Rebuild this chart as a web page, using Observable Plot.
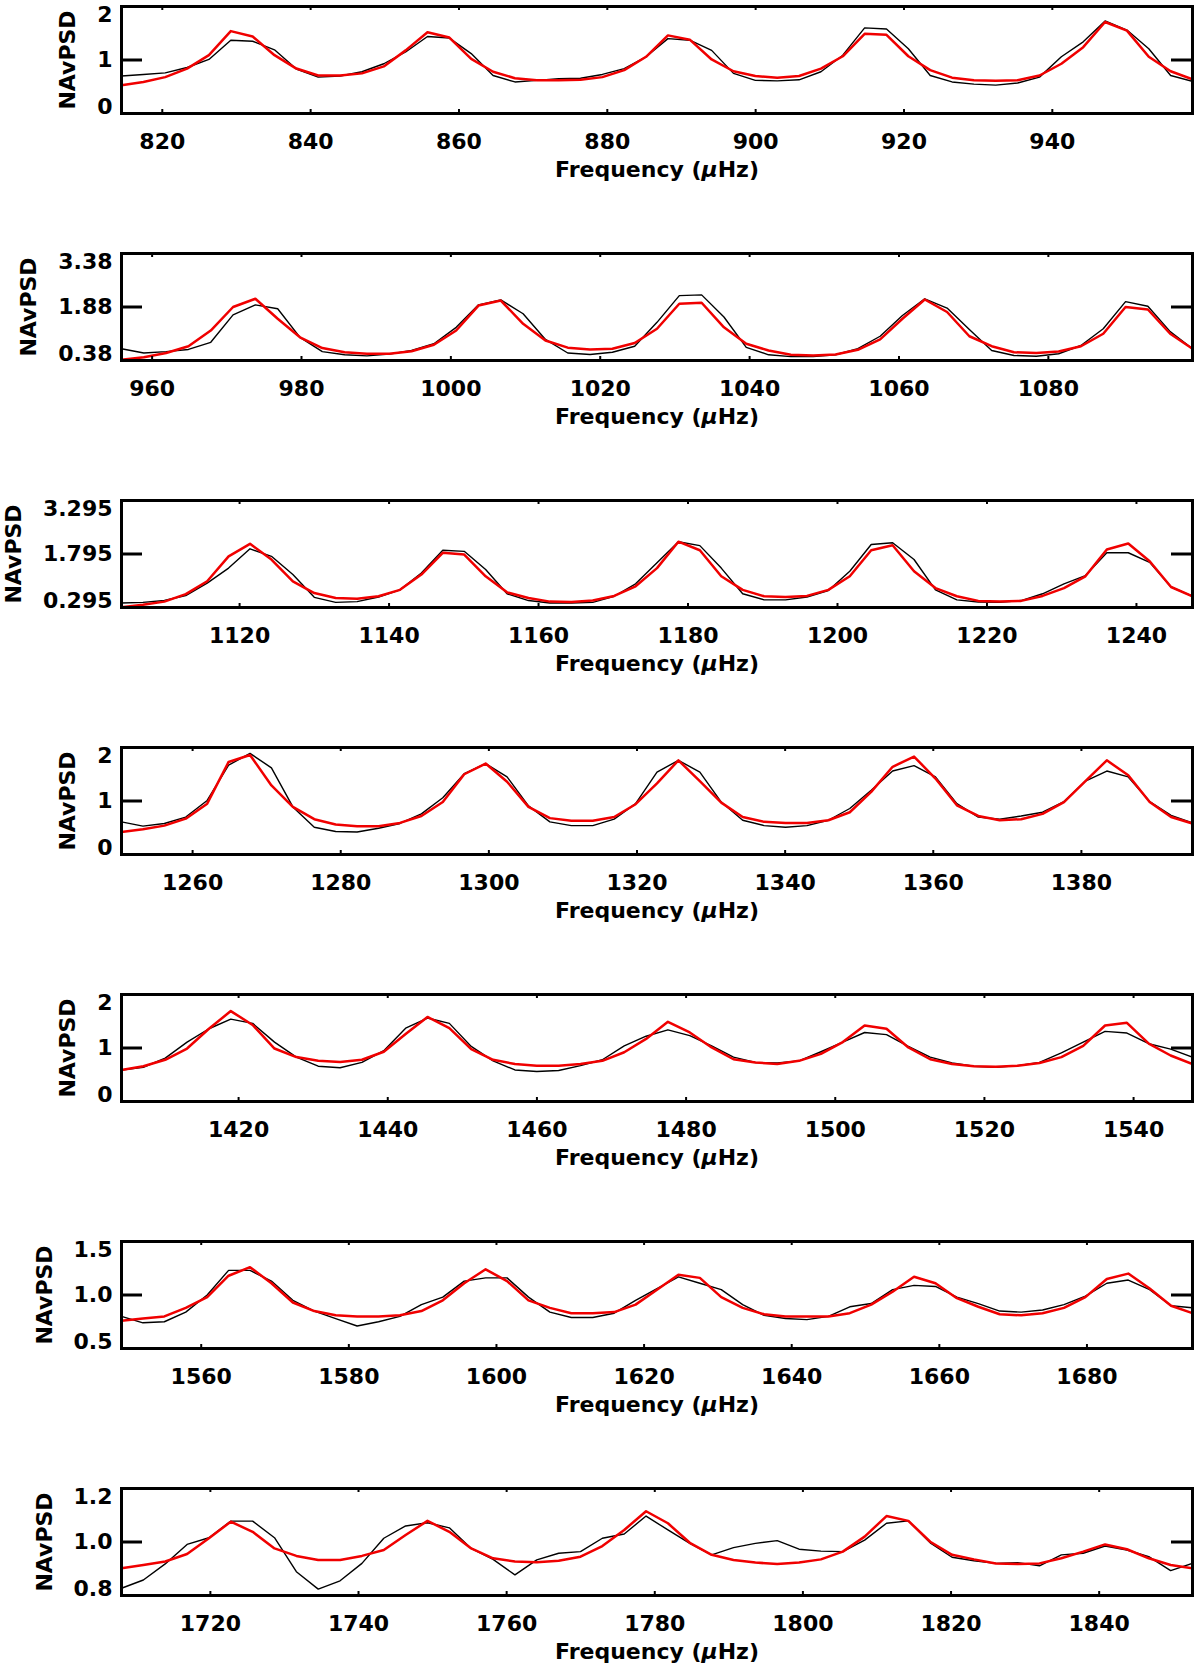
<!DOCTYPE html>
<html>
<head>
<meta charset="utf-8">
<script src="https://cdn.jsdelivr.net/npm/d3@7"></script>
<script src="https://cdn.jsdelivr.net/npm/@observablehq/plot@0.6"></script>
<style>
  body { margin: 0; background: #fff; overflow: hidden; }
  #chart svg { display: block; }
</style>
</head>
<body>
<div id="chart"></div>
<script>
// first and last frequency of each strip (µHz), samples evenly spaced in between
const freq1 = [814.5, 958.9]
const black1 = [0.70,0.73,0.76,0.86,1.01,1.37,1.35,1.19,0.83,0.68, 0.70,0.78,0.93,1.15,1.44,1.41,1.12,0.71,0.59,0.62,
  0.65,0.66,0.73,0.84,1.06,1.40,1.37,1.18,0.75,0.62, 0.61,0.63,0.78,1.09,1.60,1.58,1.21,0.71,0.59,0.55,
  0.53,0.57,0.68,1.06,1.34,1.73,1.56,1.21,0.71,0.60]
const red1 = [0.53,0.59,0.68,0.84,1.09,1.54,1.44,1.09,0.84,0.71, 0.71,0.75,0.88,1.18,1.52,1.42,1.02,0.78,0.66,0.62,
  0.62,0.63,0.68,0.81,1.06,1.46,1.38,1.01,0.79,0.70, 0.67,0.70,0.84,1.07,1.49,1.47,1.07,0.81,0.67,0.62,
  0.61,0.62,0.71,0.93,1.24,1.71,1.55,1.06,0.79,0.64]
const xticks1 = [820, 840, 860, 880, 900, 920, 940]
const yticks1 = [0, 1, 2]
const ylabels1 = ['0', '1', '2']

const freq2 = [955.9, 1099.3]
const black2 = [0.71,0.59,0.63,0.69,0.89,1.66,1.94,1.83,1.03,0.63, 0.54,0.51,0.56,0.66,0.85,1.31,1.94,2.08,1.69,0.97,
  0.59,0.55,0.61,0.78,1.45,2.20,2.22,1.60,0.75,0.54, 0.49,0.49,0.54,0.71,1.06,1.64,2.11,1.85,1.25,0.66,
  0.52,0.50,0.57,0.80,1.27,2.03,1.90,1.19,0.71]
const red2 = [0.40,0.47,0.59,0.78,1.22,1.88,2.11,1.55,1.03,0.73, 0.61,0.57,0.57,0.64,0.82,1.22,1.92,2.06,1.41,0.94,
  0.74,0.69,0.71,0.87,1.27,1.97,2.00,1.31,0.85,0.66, 0.54,0.52,0.55,0.68,0.97,1.55,2.09,1.74,1.06,0.78,
  0.61,0.59,0.63,0.78,1.13,1.88,1.81,1.13,0.71]
const xticks2 = [960, 980, 1000, 1020, 1040, 1060, 1080]
const yticks2 = [0.38, 1.88, 3.38]
const ylabels2 = ['0.38', '1.88', '3.38']

const freq3 = [1104.2, 1247.5]
const black3 = [0.42,0.44,0.49,0.63,0.98,1.40,1.94,1.73,1.22,0.58, 0.44,0.46,0.59,0.79,1.26,1.90,1.87,1.36,0.68,0.49,
  0.42,0.42,0.44,0.61,0.96,1.55,2.14,2.03,1.40,0.68, 0.51,0.51,0.59,0.77,1.31,2.06,2.11,1.64,0.79,0.51,
  0.45,0.44,0.49,0.68,0.96,1.19,1.83,1.83,1.56,0.87, 0.61]
const red3 = [0.30,0.37,0.46,0.67,1.03,1.73,2.08,1.64,1.03,0.70, 0.56,0.54,0.61,0.79,1.22,1.83,1.78,1.17,0.72,0.56,
  0.46,0.45,0.49,0.62,0.89,1.40,2.14,1.90,1.17,0.79, 0.61,0.59,0.62,0.79,1.17,1.90,2.04,1.31,0.84,0.61,
  0.48,0.46,0.48,0.62,0.84,1.17,1.92,2.09,1.59,0.87, 0.61]
const xticks3 = [1120, 1140, 1160, 1180, 1200, 1220, 1240]
const yticks3 = [0.295, 1.795, 3.295]
const ylabels3 = ['0.295', '1.795', '3.295']

const freq4 = [1250.4, 1395.0]
const black4 = [0.61,0.53,0.58,0.70,1.01,1.67,1.89,1.62,0.89,0.51, 0.43,0.42,0.49,0.58,0.76,1.06,1.51,1.70,1.45,0.91,
  0.61,0.54,0.54,0.66,0.95,1.54,1.76,1.54,0.98,0.64, 0.54,0.51,0.54,0.64,0.86,1.20,1.56,1.66,1.45,0.95,
  0.70,0.66,0.72,0.79,0.99,1.37,1.56,1.45,0.99,0.73, 0.59]
const red4 = [0.42,0.47,0.54,0.67,0.95,1.73,1.86,1.29,0.89,0.66, 0.56,0.53,0.53,0.59,0.72,0.98,1.50,1.70,1.36,0.89,
  0.68,0.63,0.63,0.70,0.94,1.33,1.76,1.37,0.97,0.70, 0.61,0.59,0.59,0.64,0.79,1.17,1.64,1.83,1.42,0.92,
  0.72,0.64,0.66,0.76,0.98,1.37,1.76,1.48,0.98,0.70, 0.58]
const xticks4 = [1260, 1280, 1300, 1320, 1340, 1360, 1380]
const yticks4 = [0, 1, 2]
const ylabels4 = ['0', '1', '2']

const freq5 = [1404.3, 1547.9]
const black5 = [0.59,0.64,0.81,1.11,1.36,1.54,1.46,1.11,0.83,0.66, 0.63,0.73,0.95,1.37,1.56,1.46,1.03,0.76,0.59,0.56,
  0.58,0.67,0.78,1.04,1.22,1.34,1.23,1.04,0.83,0.73, 0.72,0.76,0.93,1.11,1.29,1.25,1.03,0.83,0.72,0.66,
  0.64,0.67,0.73,0.91,1.11,1.31,1.28,1.08,0.98,0.83]
const red5 = [0.59,0.66,0.78,0.99,1.36,1.69,1.43,0.99,0.83,0.76, 0.74,0.78,0.93,1.26,1.58,1.37,0.98,0.78,0.70,0.67,
  0.67,0.70,0.76,0.92,1.17,1.49,1.29,1.01,0.79,0.73, 0.70,0.76,0.89,1.11,1.42,1.36,1.01,0.79,0.70,0.66,
  0.65,0.67,0.72,0.83,1.04,1.42,1.47,1.08,0.86,0.70]
const xticks5 = [1420, 1440, 1460, 1480, 1500, 1520, 1540]
const yticks5 = [0, 1, 2]
const ylabels5 = ['0', '1', '2']

const freq6 = [1549.2, 1694.3]
const black6 = [0.80,0.74,0.75,0.84,1.00,1.23,1.23,1.13,0.95,0.85, 0.78,0.71,0.75,0.80,0.91,0.98,1.13,1.16,1.16,0.98,
  0.84,0.79,0.79,0.83,0.95,1.06,1.17,1.11,1.05,0.91, 0.81,0.78,0.77,0.80,0.89,0.92,1.05,1.09,1.08,0.98,
  0.92,0.85,0.84,0.86,0.91,0.99,1.11,1.14,1.05,0.90, 0.88]
const red6 = [0.76,0.78,0.80,0.88,0.98,1.18,1.26,1.11,0.93,0.85, 0.81,0.80,0.80,0.81,0.85,0.95,1.11,1.24,1.13,0.95,
  0.88,0.83,0.83,0.84,0.91,1.05,1.19,1.16,0.98,0.88, 0.82,0.80,0.80,0.80,0.83,0.91,1.03,1.17,1.11,0.97,
  0.89,0.82,0.81,0.83,0.88,0.98,1.15,1.20,1.06,0.90, 0.83]
const xticks6 = [1560, 1580, 1600, 1620, 1640, 1660, 1680]
const yticks6 = [0.5, 1.0, 1.5]
const ylabels6 = ['0.5', '1.0', '1.5']

const freq7 = [1708.0, 1852.6]
const black7 = [0.827,0.858,0.918,0.991,1.016,1.078,1.078,1.016,0.889,0.824, 0.855,0.920,1.014,1.060,1.072,1.053,0.976,0.935,0.877,0.933,
  0.958,0.964,1.014,1.030,1.097,1.045,0.995,0.952,0.979,0.995, 1.005,0.973,0.966,0.964,1.007,1.070,1.079,0.997,0.943,0.930,
  0.920,0.923,0.911,0.952,0.958,0.985,0.970,0.945,0.893,0.920]
const red7 = [0.902,0.914,0.927,0.955,1.014,1.076,1.038,0.976,0.948,0.933, 0.933,0.948,0.970,1.026,1.079,1.038,0.976,0.939,0.927,0.924,
  0.930,0.945,0.985,1.045,1.115,1.070,0.997,0.952,0.933,0.923, 0.918,0.923,0.935,0.964,1.020,1.097,1.079,1.001,0.952,0.935,
  0.920,0.918,0.920,0.939,0.964,0.991,0.973,0.939,0.914,0.902]
const xticks7 = [1720, 1740, 1760, 1780, 1800, 1820, 1840]
const yticks7 = [0.8, 1.0, 1.2]
const ylabels7 = ['0.8', '1.0', '1.2']

const strips = [
  {freq: freq1, black: black1, red: red1, xticks: xticks1, yticks: yticks1, ylabels: ylabels1},
  {freq: freq2, black: black2, red: red2, xticks: xticks2, yticks: yticks2, ylabels: ylabels2},
  {freq: freq3, black: black3, red: red3, xticks: xticks3, yticks: yticks3, ylabels: ylabels3},
  {freq: freq4, black: black4, red: red4, xticks: xticks4, yticks: yticks4, ylabels: ylabels4},
  {freq: freq5, black: black5, red: red5, xticks: xticks5, yticks: yticks5, ylabels: ylabels5},
  {freq: freq6, black: black6, red: red6, xticks: xticks6, yticks: yticks6, ylabels: ylabels6},
  {freq: freq7, black: black7, red: red7, xticks: xticks7, yticks: yticks7, ylabels: ylabels7},
]

const W = 1200, H = 1669
const ML = 121, MR = 8, MT = 6, FH = 107, STEP = 247
const txt = {fontFamily: 'DejaVu Sans', fontSize: 22, fontWeight: 'bold', fill: 'black'}

// width of the widest y label, the y title sits left of it
const ctx = document.createElement('canvas').getContext('2d')
ctx.font = 'bold 22px "DejaVu Sans"'

function series(freq, vals) {
  const n = vals.length
  return vals.map((v, i) => ({f: freq[0] + i * (freq[1] - freq[0]) / (n - 1), v}))
}

strips.forEach((s, k) => {
  const h = k < strips.length - 1 ? STEP : H - STEP * (strips.length - 1)
  const [f0, f1] = s.freq
  const [y0, ym, y1] = s.yticks
  const kx = (f1 - f0) / (W - ML - MR)
  const ky = (y1 - y0) / FH
  const labW = d3.max(s.ylabels, t => ctx.measureText(t).width)
  const ylab = (i, anchor) => Plot.text([i], {
    y: j => s.yticks[j], text: j => s.ylabels[j], frameAnchor: 'left',
    dx: -9, textAnchor: 'end', lineAnchor: anchor, ...txt
  })

  let chart = Plot.plot({
    width: W,
    height: h,
    marginLeft: ML,
    marginRight: MR,
    marginTop: MT,
    marginBottom: h - MT - FH,
    x: {domain: s.freq, axis: null},
    y: {domain: [y0, y1], axis: null},
    style: {background: 'white', overflow: 'visible'},
    marks: [
      Plot.line(series(s.freq, s.black), {x: 'f', y: 'v', stroke: 'black', strokeWidth: 1.4, clip: true}),
      Plot.line(series(s.freq, s.red), {x: 'f', y: 'v', stroke: '#f00000', strokeWidth: 2.5, clip: true}),
      // inward ticks
      Plot.ruleY([ym], {x1: f0, x2: f0 + 21 * kx, stroke: 'black', strokeWidth: 3}),
      Plot.ruleY([ym], {x1: f1 - 21 * kx, x2: f1, stroke: 'black', strokeWidth: 3}),
      Plot.ruleX(s.xticks, {y1: y0, y2: y0 + 4 * ky, stroke: 'black', strokeWidth: 2}),
      Plot.ruleX(s.xticks, {y1: y1 - 4 * ky, y2: y1, stroke: 'black', strokeWidth: 2}),
      Plot.frame({stroke: 'black', strokeWidth: 3}),
      Plot.text(s.xticks, {x: d => d, text: d => String(d), frameAnchor: 'bottom', dy: 28, lineAnchor: 'middle', ...txt}),
      ylab(0, 'bottom'), ylab(1, 'middle'), ylab(2, 'top'),
      Plot.text(['NAvPSD'], {text: d => d, frameAnchor: 'left', dx: -(38 + labW), rotate: -90,
        textAnchor: 'middle', lineAnchor: 'middle', ...txt}),
      Plot.text(['Frequency (μHz)'], {text: d => d, frameAnchor: 'bottom', dy: 56,
        textAnchor: 'middle', lineAnchor: 'middle', ...txt}),
    ]
  })
  d3.select(chart).selectAll('text')
    .filter(function () { return this.textContent === 'Frequency (μHz)' })
    .html('Frequency (<tspan font-style="italic">μ</tspan>Hz)')
  d3.select('#chart').append(() => chart)
})
</script>
</body>
</html>
